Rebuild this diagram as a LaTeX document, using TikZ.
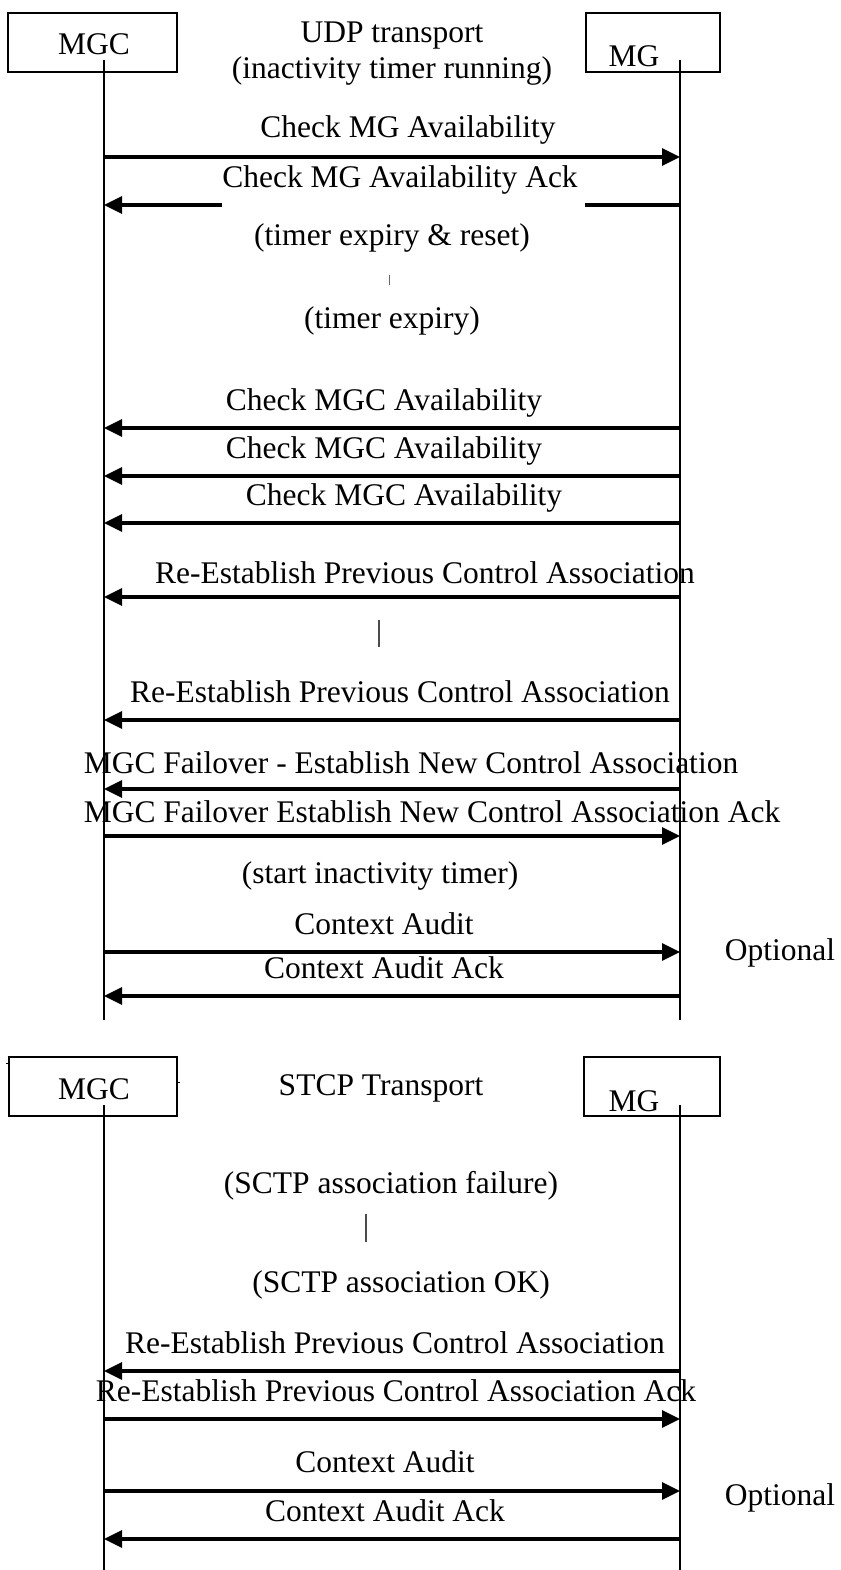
\documentclass[tikz,border=0pt]{standalone}
\usepackage{fontspec}
\setmainfont{Liberation Serif}
\usetikzlibrary{arrows.meta}
\begin{document}
\begin{tikzpicture}[x=1pt,y=-1pt,
  lbl/.style={inner sep=0pt,anchor=base,font=\fontsize{31.5}{36}\selectfont},
  actor/.style={draw,line width=1.8pt},
  life/.style={line width=1.4pt},
  msg/.style={line width=3.2pt,-{Triangle[length=18pt,width=17pt]}},
  plainmsg/.style={line width=3.2pt},
  tick/.style={line width=1.2pt,draw=black!70}]
\useasboundingbox (0,0) rectangle (840,1570);
\fill[white] (0,0) rectangle (840,1570);

% ---------- UDP part ----------
\draw[actor] (8,13) rectangle (177,72);
\draw[actor] (586,13) rectangle (720,72);
\node[lbl] (mgc1) at (94,55) {MGC};
\node[lbl] (mg1) at (634,67) {MG};
\node[lbl] (udp) at (392,43) {UDP transport};
\node[lbl] (inact) at (392,79) {(inactivity timer running)};
\coordinate (L1top) at (104,60); \coordinate (L1bot) at (104,1020);
\coordinate (R1top) at (680,60); \coordinate (R1bot) at (680,1020);
\draw[life] (L1top) -- (L1bot);
\draw[life] (R1top) -- (R1bot);

\node[lbl] (m1) at (408,138) {Check MG Availability};
\coordinate (m1a) at (104,157); \coordinate (m1b) at (680,157);
\draw[msg] (m1a) -- (m1b);

\node[lbl] (m2) at (400,188) {Check MG Availability Ack};
\coordinate (m2a) at (680,205); \coordinate (m2g1) at (585,205);
\coordinate (m2g2) at (222,205); \coordinate (m2b) at (104,205);
\draw[plainmsg] (m2a) -- (m2g1);
\draw[msg] (m2g2) -- (m2b);

\node[lbl] (t1) at (392,246) {(timer expiry \& reset)};
\coordinate (k1a) at (389,275); \coordinate (k1b) at (389,285);
\draw[tick,line width=0.8pt,draw=black!60] (k1a) -- (k1b);
\node[lbl] (t2) at (392,328) {(timer expiry)};

\node[lbl] (m3) at (384,410) {Check MGC Availability};
\coordinate (m3a) at (680,428); \coordinate (m3b) at (104,428);
\draw[msg] (m3a) -- (m3b);
\node[lbl] (m4) at (384,458) {Check MGC Availability};
\coordinate (m4a) at (680,476); \coordinate (m4b) at (104,476);
\draw[msg] (m4a) -- (m4b);
\node[lbl] (m5) at (404,505) {Check MGC Availability};
\coordinate (m5a) at (680,523); \coordinate (m5b) at (104,523);
\draw[msg] (m5a) -- (m5b);

\node[lbl] (m6) at (425,583) {Re-Establish Previous Control Association};
\coordinate (m6a) at (680,597); \coordinate (m6b) at (104,597);
\draw[msg] (m6a) -- (m6b);

\coordinate (k2a) at (379,620); \coordinate (k2b) at (379,647);
\draw[tick] (k2a) -- (k2b);

\node[lbl] (m7) at (400,702) {Re-Establish Previous Control Association};
\coordinate (m7a) at (680,720); \coordinate (m7b) at (104,720);
\draw[msg] (m7a) -- (m7b);

\node[lbl] (m8) at (411,773) {MGC Failover - Establish New Control Association};
\coordinate (m8a) at (680,789); \coordinate (m8b) at (104,789);
\draw[msg] (m8a) -- (m8b);

\node[lbl] (m9) at (432,822) {MGC Failover Establish New Control Association Ack};
\coordinate (m9a) at (104,836); \coordinate (m9b) at (680,836);
\draw[msg] (m9a) -- (m9b);

\node[lbl] (t3) at (380,883) {(start inactivity timer)};

\node[lbl] (m10) at (384,934) {Context Audit};
\coordinate (m10a) at (104,952); \coordinate (m10b) at (680,952);
\draw[msg] (m10a) -- (m10b);
\node[lbl] (m11) at (384,978) {Context Audit Ack};
\coordinate (m11a) at (680,996); \coordinate (m11b) at (104,996);
\draw[msg] (m11a) -- (m11b);
\node[lbl] (opt1) at (780,960) {Optional};

% ---------- SCTP part ----------
\draw[actor] (9,1057) rectangle (177,1116);
\draw[line width=0.8pt] (6,1063) -- (9,1063);
\draw[line width=0.8pt] (177,1082) -- (180,1082);
\draw[actor] (584,1057) rectangle (720,1116);
\node[lbl] (mgc2) at (94,1099) {MGC};
\node[lbl] (mg2) at (634,1111) {MG};
\node[lbl] (stcp) at (381,1095) {STCP Transport};
\coordinate (L2top) at (104,1105); \coordinate (L2bot) at (104,1570);
\coordinate (R2top) at (680,1105); \coordinate (R2bot) at (680,1570);
\draw[life] (L2top) -- (L2bot);
\draw[life] (R2top) -- (R2bot);

\node[lbl] (s1) at (391,1193) {(SCTP association failure)};
\coordinate (k3a) at (366,1214); \coordinate (k3b) at (366,1242);
\draw[tick] (k3a) -- (k3b);
\node[lbl] (s2) at (401,1292) {(SCTP association OK)};

\node[lbl] (n1) at (395,1353) {Re-Establish Previous Control Association};
\coordinate (n1a) at (680,1371); \coordinate (n1b) at (104,1371);
\draw[msg] (n1a) -- (n1b);
\node[lbl] (n2) at (396,1401) {Re-Establish Previous Control Association Ack};
\coordinate (n2a) at (104,1419); \coordinate (n2b) at (680,1419);
\draw[msg] (n2a) -- (n2b);

\node[lbl] (n3) at (385,1472) {Context Audit};
\coordinate (n3a) at (104,1491); \coordinate (n3b) at (680,1491);
\draw[msg] (n3a) -- (n3b);
\node[lbl] (n4) at (385,1521) {Context Audit Ack};
\coordinate (n4a) at (680,1539); \coordinate (n4b) at (104,1539);
\draw[msg] (n4a) -- (n4b);
\node[lbl] (opt2) at (780,1505) {Optional};
\end{tikzpicture}
\end{document}
